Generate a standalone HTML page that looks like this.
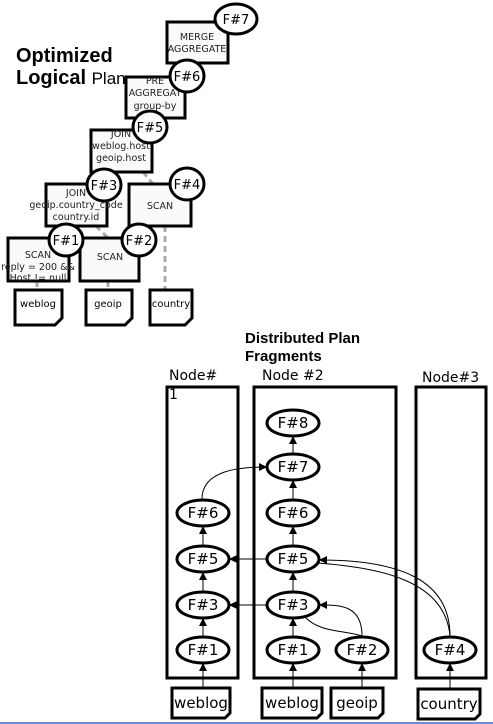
<!DOCTYPE html>
<html><head><meta charset="utf-8"><style>
html,body{margin:0;padding:0;background:#fff;}
svg{display:block;font-family:"DejaVu Sans","Liberation Sans",sans-serif;}
</style></head><body>
<svg width="493" height="724" viewBox="0 0 493 724" xmlns="http://www.w3.org/2000/svg">
<defs>
<marker id="a" markerWidth="8" markerHeight="8" refX="7" refY="4" orient="auto" markerUnits="userSpaceOnUse"><path d="M0,0 L8,4 L0,8 z" fill="#000"/></marker>
</defs>
<rect width="493" height="724" fill="#fff"/>
<text x="16" y="62" font-family="Liberation Sans,sans-serif" font-weight="bold" font-size="20">Optimized</text>
<text x="16" y="84" font-family="Liberation Sans,sans-serif" font-size="20"><tspan font-weight="bold">Logical</tspan> <tspan font-size="17">Plan</tspan></text>
<g stroke="#aaa" stroke-width="3" stroke-dasharray="6,4" fill="none">
<line x1="143" y1="172" x2="153" y2="184"/>
<line x1="96" y1="226" x2="108" y2="238"/>
<line x1="165" y1="226" x2="165" y2="290"/>
<line x1="37" y1="281" x2="37" y2="290"/>
<line x1="108" y1="281" x2="108" y2="290"/>
</g>
<g stroke="#000" stroke-width="3" fill="#fafafa">
<rect x="167" y="22" width="61" height="41"/>
<rect x="126" y="77" width="59" height="41"/>
<rect x="91" y="130" width="61" height="42"/>
<rect x="46" y="184" width="61" height="42"/>
<rect x="129" y="184" width="62" height="42"/>
<rect x="8" y="238" width="61" height="43"/>
<rect x="80" y="238" width="59" height="43"/>
</g>
<g font-size="9.5" text-anchor="middle" fill="#222">
<text x="197" y="40">MERGE</text><text x="197" y="52">AGGREGATE</text>
<text x="155" y="84">PRE</text><text x="155" y="96">AGGREGAT</text><text x="155" y="109">group-by</text>
<text x="121" y="137">JOIN</text><text x="121" y="149">weblog.host</text><text x="121" y="161">geoip.host</text>
<text x="76" y="196">JOIN</text><text x="76" y="208">geoip.country_code</text><text x="76" y="220">country.id</text>
<text x="160" y="209">SCAN</text>
<text x="38" y="258">SCAN</text><text x="38" y="270">reply = 200 &amp;&amp;</text><text x="38" y="281">Host != null</text>
<text x="110" y="260">SCAN</text>
</g>
<g stroke="#000" stroke-width="3" fill="#fff">
<ellipse cx="236" cy="19" rx="21" ry="15"/>
<ellipse cx="187" cy="76" rx="17" ry="16"/>
<ellipse cx="150" cy="127" rx="17" ry="16"/>
<ellipse cx="104" cy="185" rx="17" ry="16"/>
<ellipse cx="187" cy="184" rx="17" ry="16"/>
<ellipse cx="66" cy="240" rx="17" ry="16"/>
<ellipse cx="139" cy="240" rx="17" ry="16"/>
</g>
<g font-size="13" text-anchor="middle" fill="#000">
<text x="236" y="24">F#7</text><text x="187" y="81">F#6</text><text x="150" y="132">F#5</text>
<text x="104" y="190">F#3</text><text x="187" y="189">F#4</text><text x="66" y="245">F#1</text><text x="139" y="245">F#2</text>
</g>
<g stroke="#000" stroke-width="3" fill="#fff">
<path d="M15,290 H62 V318 L55,325 H15 Z"/>
<path d="M86,290 H132 V318 L125,325 H86 Z"/>
<path d="M150,290 H192 V318 L185,325 H150 Z"/>
</g>
<g font-size="10" text-anchor="middle"><text x="38" y="307">weblog</text><text x="108" y="307">geoip</text><text x="171" y="307">country</text></g>

<text x="245" y="343" font-family="Liberation Sans,sans-serif" font-weight="bold" font-size="15">Distributed Plan</text>
<text x="245" y="361" font-family="Liberation Sans,sans-serif" font-weight="bold" font-size="15">Fragments</text>
<g stroke="#000" stroke-width="3" fill="#fff">
<rect x="167" y="387" width="71" height="291"/>
<rect x="254" y="387" width="142" height="291"/>
<rect x="416" y="387" width="70" height="291"/>
</g>
<g font-size="14"><text x="169" y="380">Node#</text><text x="169" y="399">1</text><text x="262" y="380">Node #2</text><text x="422" y="382">Node#3</text></g>
<g stroke="#000" stroke-width="1" fill="none" marker-end="url(#a)">
<line x1="203" y1="688" x2="203" y2="664"/>
<line x1="203" y1="637" x2="203" y2="619"/>
<line x1="203" y1="591" x2="203" y2="573"/>
<line x1="203" y1="545" x2="203" y2="527"/>
<line x1="293" y1="688" x2="293" y2="664"/>
<line x1="293" y1="637" x2="293" y2="619"/>
<line x1="293" y1="591" x2="293" y2="573"/>
<line x1="293" y1="545" x2="293" y2="527"/>
<line x1="293" y1="499" x2="293" y2="481"/>
<line x1="293" y1="453" x2="293" y2="437"/>
<line x1="362" y1="688" x2="362" y2="664"/>
<line x1="450" y1="688" x2="450" y2="664"/>
<line x1="266" y1="559" x2="230" y2="559"/>
<line x1="266" y1="605" x2="230" y2="605"/>
<path d="M202,499 C202,470 240,467 266,467"/>
<path d="M362,636 C362,605 340,605 320,605"/>
<path d="M450,636 C450,580 400,560 320,560"/>
</g>
<g stroke="#000" stroke-width="1" fill="none">
<path d="M305,617 C320,633 345,630 362,636"/>
<path d="M318,563 C380,568 445,580 450,636"/>
</g>
<g stroke="#000" stroke-width="3" fill="#fff">
<ellipse cx="203" cy="513" rx="26" ry="13"/>
<ellipse cx="203" cy="559" rx="26" ry="13"/>
<ellipse cx="203" cy="605" rx="26" ry="13"/>
<ellipse cx="203" cy="650" rx="26" ry="13"/>
<ellipse cx="293" cy="423" rx="26" ry="13"/>
<ellipse cx="293" cy="467" rx="26" ry="13"/>
<ellipse cx="293" cy="513" rx="26" ry="13"/>
<ellipse cx="293" cy="559" rx="26" ry="13"/>
<ellipse cx="293" cy="605" rx="26" ry="13"/>
<ellipse cx="293" cy="650" rx="26" ry="13"/>
<ellipse cx="362" cy="650" rx="26" ry="13"/>
<ellipse cx="450" cy="650" rx="26" ry="13"/>
</g>
<g font-size="15" text-anchor="middle">
<text x="203" y="518">F#6</text><text x="203" y="564">F#5</text><text x="203" y="610">F#3</text><text x="203" y="655">F#1</text>
<text x="293" y="428">F#8</text><text x="293" y="472">F#7</text><text x="293" y="518">F#6</text><text x="293" y="564">F#5</text><text x="293" y="610">F#3</text><text x="293" y="655">F#1</text>
<text x="362" y="655">F#2</text><text x="450" y="655">F#4</text>
</g>
<g stroke="#000" stroke-width="3" fill="#fff">
<path d="M172,688 H230 V713 L225,718 H172 Z"/>
<path d="M262,688 H322 V713 L317,718 H262 Z"/>
<path d="M331,688 H383 V713 L378,718 H331 Z"/>
<path d="M418,689 H480 V714 L475,719 H418 Z"/>
</g>
<g font-size="15" text-anchor="middle">
<text x="201" y="708">weblog</text><text x="292" y="708">weblog</text><text x="357" y="708">geoip</text><text x="449" y="709">country</text>
</g>
<line x1="0" y1="723" x2="493" y2="723" stroke="#3a6fc0" stroke-width="1.5"/>
</svg>
</body></html>
